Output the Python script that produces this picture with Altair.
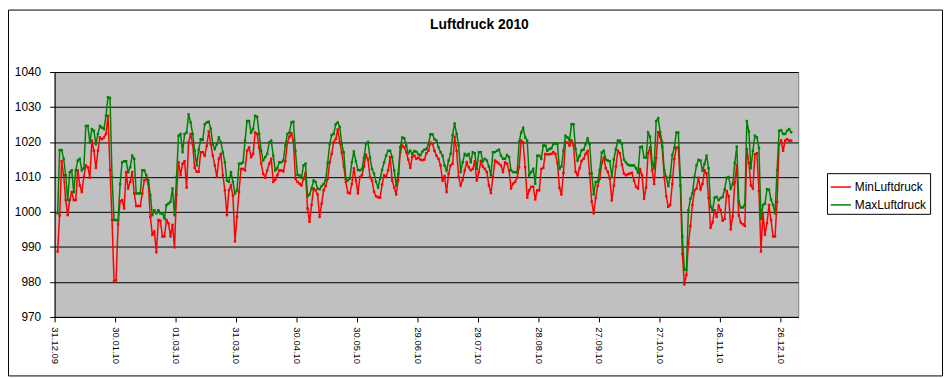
import json
import altair as alt
import pandas as pd

TITLE = "Luftdruck 2010"
SERIES = ["MinLuftdruck", "MaxLuftdruck"]
COLORS = ["#FF0000", "#008000"]
TICK_LABELS = ["31.12.09", "30.01.10", "01.03.10", "31.03.10", "30.04.10", "30.05.10",
               "29.06.10", "29.07.10", "28.08.10", "27.09.10", "27.10.10", "26.11.10", "26.12.10"]
Y_TICKS = [970, 980, 990, 1000, 1010, 1020, 1030, 1040]

MAX_LUFTDRUCK = [
    999.6, 1017.7, 1017.7, 1015.2, 1010.5, 1003.4, 1011.4, 1011.9, 1005.7, 1011.9,
    1014.7, 1015.2, 1011.9, 1012.5, 1024.6, 1024.6, 1019.9, 1023.7, 1023.2, 1019.4,
    1022.3, 1024.6, 1024.1, 1023.7, 1027.5, 1032.8, 1032.6, 1010.0, 997.7, 997.7,
    997.5, 1008.0, 1014.2, 1014.5, 1014.5, 1011.4, 1012.8, 1016.1, 1015.2, 1005.3,
    1005.3, 1005.3, 1011.9, 1011.9, 1010.5, 1009.0, 1004.8, 999.1, 1000.5, 999.6,
    1000.5, 999.6, 999.6, 998.2, 1002.0, 1002.4, 1002.9, 1006.7, 999.1, 1010.0,
    1021.8, 1022.3, 1017.1, 1022.3, 1022.7, 1027.9, 1025.6, 1022.3, 1017.5, 1013.3,
    1017.8, 1020.8, 1020.6, 1025.1, 1025.6, 1025.8, 1023.8, 1019.4, 1018.0, 1019.4,
    1021.3, 1019.9, 1017.1, 1014.2, 1009.0, 1008.6, 1011.4, 1008.6, 1005.3, 1006.2,
    1013.8, 1013.8, 1014.2, 1020.4, 1026.0, 1026.0, 1022.7, 1023.7, 1027.5, 1027.2,
    1022.3, 1017.5, 1014.7, 1015.7, 1016.6, 1019.9, 1020.4, 1016.1, 1011.9, 1012.5,
    1014.2, 1014.2, 1014.7, 1019.0, 1022.3, 1022.7, 1025.6, 1025.8, 1017.5, 1010.6,
    1010.5, 1009.8, 1013.3, 1013.8, 1004.5, 1005.0, 1006.7, 1009.0, 1008.6, 1006.7,
    1006.5, 1007.4, 1008.0, 1009.1, 1014.0, 1019.4, 1022.0, 1022.3, 1025.1, 1025.6,
    1024.3, 1019.4, 1017.0, 1009.5, 1009.0, 1009.5, 1014.2, 1017.3, 1014.5, 1012.0,
    1011.9, 1012.2, 1015.5, 1019.5, 1020.0, 1015.6, 1012.3, 1011.0, 1008.6, 1007.0,
    1009.5, 1012.0, 1014.2, 1016.1, 1017.5, 1017.5, 1015.7, 1011.9, 1007.6, 1010.9,
    1018.5, 1021.3, 1021.1, 1019.0, 1016.8, 1017.5, 1016.6, 1017.4, 1017.2, 1016.5,
    1016.2, 1017.3, 1017.8, 1018.0, 1019.4, 1022.2, 1022.2, 1020.8, 1020.4, 1018.5,
    1017.1, 1016.1, 1013.3, 1011.9, 1014.7, 1016.6, 1022.0, 1025.3, 1022.3, 1019.0,
    1011.4, 1014.2, 1016.6, 1016.1, 1016.6, 1014.2, 1017.1, 1016.8, 1012.3, 1017.1,
    1017.1, 1014.5, 1015.2, 1014.7, 1013.0, 1010.5, 1017.1, 1017.1, 1017.5, 1017.8,
    1016.1, 1015.2, 1015.2, 1016.3, 1015.7, 1011.9, 1011.4, 1011.4, 1011.2, 1020.0,
    1022.7, 1024.0, 1021.3, 1020.4, 1010.5, 1011.4, 1012.3, 1008.1, 1016.1, 1016.1,
    1015.2, 1019.0, 1019.0, 1017.5, 1018.0, 1018.2, 1019.4, 1019.6, 1019.6, 1012.3,
    1013.0, 1017.5, 1021.8, 1021.3, 1020.5, 1025.1, 1025.1, 1018.0, 1014.7, 1016.0,
    1017.6, 1017.8, 1019.4, 1021.0, 1019.4, 1011.0, 1005.0, 1008.6, 1008.6, 1012.0,
    1017.0, 1017.5, 1015.0, 1014.7, 1014.5, 1010.0, 1015.0, 1018.0, 1020.4, 1020.4,
    1019.5, 1015.0, 1014.2, 1013.5, 1013.3, 1013.3, 1013.3, 1012.5, 1011.2, 1018.5,
    1018.7, 1015.6, 1015.5, 1022.7, 1021.5, 1014.2, 1012.5, 1026.0, 1026.8, 1022.7,
    1019.9, 1012.0, 1010.0, 1007.4, 1010.3, 1016.3, 1018.3, 1022.7, 1022.7, 1010.0,
    993.0, 983.5, 983.5, 1000.5, 1003.8, 1005.3, 1010.0, 1013.3, 1014.9, 1014.7,
    1011.8, 1013.8, 1016.1, 1012.5, 1001.5, 1000.5, 1004.1, 1004.3, 1003.4, 1004.0,
    1004.3, 1006.5, 1009.8, 1010.0, 1006.7, 1008.0, 1014.0, 1018.7, 1003.0, 1001.3,
    1001.3, 1002.0, 1026.0, 1023.0, 1012.5, 1017.5, 1021.8, 1021.3, 1018.3, 998.0,
    1002.0, 1002.4, 1006.5, 1006.4, 1003.5, 1002.0, 999.6, 1011.9, 1023.2, 1023.4,
    1022.3, 1022.3, 1023.2, 1023.7, 1022.8,
]

MIN_LUFTDRUCK = [
    988.7, 999.0, 1014.5, 1010.5, 1003.4, 999.1, 1003.4, 1005.7, 1003.4, 1003.4,
    1011.9, 1007.6, 1005.7, 1010.0, 1013.3, 1012.8, 1009.8, 1020.4, 1017.5, 1012.6,
    1017.5, 1021.3, 1020.8, 1021.3, 1022.3, 1027.5, 1012.0, 997.7, 980.2, 980.5,
    996.5, 1003.0, 1003.4, 1001.0, 1011.4, 1006.7, 1008.6, 1011.4, 1005.3, 1001.7,
    1001.7, 1001.7, 1005.3, 1009.0, 1009.5, 1008.0, 998.6, 993.5, 994.4, 988.5,
    997.7, 997.5, 993.0, 993.0, 997.7, 996.8, 993.0, 996.3, 989.9, 1005.0,
    1014.2, 1010.5, 1013.8, 1014.5, 1007.0, 1019.9, 1022.3, 1019.4, 1012.6, 1011.5,
    1011.5, 1017.1, 1017.1, 1016.1, 1018.9, 1023.0, 1019.4, 1016.1, 1013.3, 1010.0,
    1015.2, 1016.6, 1010.5, 1006.2, 999.1, 1006.2, 1007.6, 1004.6, 991.6, 998.6,
    1005.7, 1012.3, 1012.3, 1011.9, 1017.5, 1018.4, 1015.7, 1016.6, 1022.7, 1022.3,
    1018.4, 1013.8, 1010.9, 1009.8, 1011.9, 1013.8, 1015.2, 1008.6, 1009.2, 1010.5,
    1011.9, 1011.9, 1011.6, 1014.5, 1019.9, 1021.5, 1022.5, 1020.4, 1009.5, 1008.6,
    1008.1, 1007.6, 1009.4, 1011.2, 1001.0, 997.2, 1002.0, 1006.7, 1006.2, 1005.0,
    998.6, 1002.4, 1006.2, 1007.4, 1009.5, 1014.2, 1016.6, 1019.9, 1020.8, 1023.6,
    1019.9, 1017.0, 1013.0, 1008.6, 1005.5, 1005.3, 1008.0, 1012.5, 1009.0, 1005.3,
    1010.0, 1010.5, 1013.0, 1016.3, 1015.0, 1010.0, 1009.0, 1005.8, 1004.5, 1004.2,
    1004.1, 1007.8, 1010.5, 1010.0, 1011.9, 1015.7, 1009.0, 1007.0, 1005.0, 1009.0,
    1017.0, 1019.0, 1018.5, 1017.1, 1015.0, 1012.6, 1015.8, 1016.1, 1015.2, 1015.5,
    1015.0, 1014.8, 1015.0, 1016.8, 1017.5, 1019.8, 1019.5, 1017.5, 1016.1, 1015.2,
    1013.3, 1009.0, 1010.2, 1005.7, 1010.9, 1013.3, 1013.8, 1021.5, 1017.5, 1010.0,
    1007.6, 1009.2, 1011.9, 1014.2, 1012.8, 1011.9, 1012.3, 1014.5, 1009.0, 1011.4,
    1014.5, 1013.0, 1012.3, 1011.4, 1007.6, 1005.4, 1010.0, 1014.7, 1014.3, 1013.8,
    1013.3, 1011.4, 1014.2, 1013.8, 1011.9, 1006.7, 1008.1, 1008.6, 1009.8, 1012.8,
    1020.4, 1019.9, 1012.8, 1004.1, 1006.2, 1007.2, 1007.2, 1003.6, 1006.2, 1006.2,
    1012.3, 1012.6, 1016.6, 1016.5, 1016.5, 1016.6, 1017.1, 1016.6, 1014.0, 1006.9,
    1005.0, 1011.2, 1020.0, 1019.8, 1019.0, 1020.4, 1019.0, 1011.5, 1010.5, 1012.5,
    1014.6, 1015.2, 1016.6, 1017.4, 1011.0, 1003.0, 999.6, 1004.0, 1007.5, 1009.5,
    1014.0, 1015.5, 1012.5, 1011.5, 1009.5, 1003.3, 1007.5, 1013.0, 1017.5, 1016.8,
    1013.5, 1011.0, 1010.5, 1010.8, 1011.0, 1011.2, 1009.0, 1007.2, 1006.7, 1012.3,
    1010.5, 1003.8, 1007.0, 1016.8, 1018.5, 1012.0, 1008.0, 1015.4, 1022.8, 1021.5,
    1018.5, 1010.0, 1004.5, 1001.5, 1002.0, 1008.0, 1015.2, 1018.4, 1018.4, 1007.5,
    988.0, 979.3, 982.0, 991.0, 996.0, 1002.0, 1006.2, 1006.7, 1009.8, 1006.5,
    1008.0, 1011.9, 1011.0, 1004.0, 995.5, 997.0, 1000.5, 998.6, 1001.8, 1000.5,
    997.5, 998.0, 1006.0, 1004.5, 995.0, 998.8, 1008.5, 1013.3, 999.0, 997.0,
    996.5, 996.0, 1018.0, 1014.0, 1007.6, 1006.7, 1016.5, 1016.8, 1006.0, 988.7,
    999.6, 993.5, 996.8, 1002.0, 997.7, 993.0, 993.0, 1002.9, 1019.4, 1020.4,
    1017.5, 1020.4, 1020.8, 1020.4, 1020.4,
]

N_CATEGORIES = 369  # width of the category axis in days

def frame(name, values):
    return pd.DataFrame({
        "tag": [i + 1.5 for i in range(len(values))],
        "serie": [name] * len(values),
        "wert": values,
    })

df_min = frame(SERIES[0], MIN_LUFTDRUCK)
df_max = frame(SERIES[1], MAX_LUFTDRUCK)

label_expr = json.dumps(TICK_LABELS) + "[round(datum.value / 30)]"

x_enc = alt.X(
    "tag:Q",
    scale=alt.Scale(domain=[0, N_CATEGORIES], nice=False, zero=False),
    axis=alt.Axis(
        values=[30 * k for k in range(len(TICK_LABELS))],
        labelExpr=label_expr,
        labelAngle=90,
        labelAlign="left",
        labelBaseline="middle",
        labelFontSize=9.5,
        labelPadding=5,
        tickSize=5,
        grid=False,
        title=None,
        labelOverlap=False,
    ),
)
y_enc = alt.Y(
    "wert:Q",
    scale=alt.Scale(domain=[970, 1040], nice=False, zero=False),
    axis=alt.Axis(
        values=Y_TICKS,
        format="d",
        grid=True,
        gridColor="black",
        gridOpacity=1,
        gridWidth=1,
        tickSize=5,
        labelPadding=9,
        labelFontSize=12,
        title=None,
    ),
)
color_enc = alt.Color(
    "serie:N",
    scale=alt.Scale(domain=SERIES, range=COLORS),
    legend=alt.Legend(
        title=None,
        orient="none",
        legendX=779,
        legendY=102,
        fillColor="white",
        strokeColor="black",
        padding=3,
        symbolType="stroke",
        symbolSize=420,
        symbolStrokeWidth=1.5,
        labelFontSize=12,
        labelOffset=3,
        rowPadding=1,
    ),
)

def series_layer(df):
    return alt.Chart(df).mark_line(
        strokeWidth=1.5,
        point=alt.OverlayMarkDef(shape="square", size=6, filled=True, opacity=1),
    ).encode(x=x_enc, y=y_enc, color=color_enc)

border = alt.Chart(pd.DataFrame({"a": [0]})).mark_rect(
    fillOpacity=0, stroke="black", strokeWidth=1
).encode(
    x=alt.value(-46.5), x2=alt.value(895.5), y=alt.value(-62.5), y2=alt.value(306.5)
)

title = alt.Chart(pd.DataFrame({"t": [TITLE]})).mark_text(
    font="Liberation Sans", fontSize=14, fontWeight="bold", align="center",
    baseline="alphabetic", color="black",
).encode(x=alt.value(428.5), y=alt.value(-43), text="t:N")

chart = alt.layer(
    border, series_layer(df_min), series_layer(df_max), title
).properties(
    width=750,
    height=247,
    padding={"left": 47, "top": 63, "right": 146, "bottom": 60},
    autosize=alt.AutoSizeParams(type="none"),
    background="white",
).configure_view(
    fill="#C0C0C0", stroke="#808080", strokeWidth=1
).configure_axis(
    labelFont="Liberation Sans",
    labelColor="black",
    domainColor="black",
    tickColor="black",
    domainWidth=1,
    tickWidth=1,
).configure_legend(
    labelFont="Liberation Sans",
    labelColor="black",
)

chart.save("out.html", embed_options={"renderer": "svg", "actions": False})
